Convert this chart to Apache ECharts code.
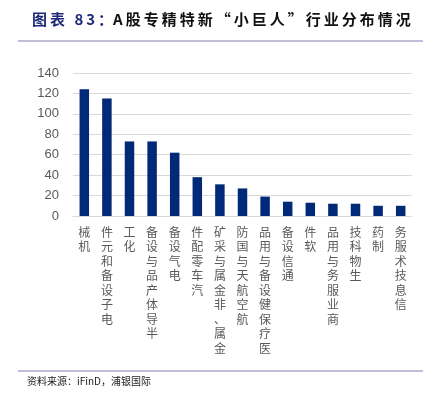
<!DOCTYPE html>
<html>
<head>
<meta charset="utf-8">
<script src="https://cdn.jsdelivr.net/npm/echarts@6/dist/echarts.min.js"></script>
<style>
  html, body { margin: 0; padding: 0; background: #fff; }
  #chart { width: 434px; height: 398px; }
</style>
</head>
<body>
<div id="chart"></div>
<script>
const categories = [
  '机械', '电子设备和元件', '化工', '半导体产品与设备', '电气设备',
  '汽车零配件', '金属、非金属与采矿', '航空航天与国防', '医疗保健设备与用品',
  '通信设备', '软件', '商业服务与用品', '生物科技', '制药', '信息技术服务'
];
const counts = [124, 115, 73, 73, 62, 38, 31, 27, 19, 14, 13, 12, 12, 10, 10];
const yTicks = { min: 0, max: 140, interval: 20 };

const cjk = '"Noto Sans CJK SC", sans-serif';
// the title in the source is set with wide letter spacing
const spaced = (s) => s.split('').join('\u2009');

const chart = echarts.init(document.getElementById('chart'));

chart.setOption({
  backgroundColor: '#fff',
  animation: false,
  title: {
    left: 27,
    top: 7,
    text: '{a|' + spaced('图表 83：') + '}{b|' + spaced('A股专精特新“小巨人”行业分布情况') + '}',
    textStyle: {
      rich: {
        a: { fontFamily: cjk, fontSize: 15, fontWeight: 'bold', color: '#1f2a7a' },
        b: { fontFamily: cjk, fontSize: 15, fontWeight: 'bold', color: '#111' }
      }
    }
  },
  grid: { left: 73, right: 22, top: 73, bottom: 182 },
  xAxis: {
    type: 'category',
    data: categories,
    axisLine: { lineStyle: { color: '#d9d9d9' } },
    axisTick: { show: false },
    axisLabel: {
      interval: 0,
      margin: 9,
      fontFamily: cjk,
      fontSize: 12,
      lineHeight: 14.5,
      color: '#595959',
      verticalAlign: 'top',
      // upright characters stacked, reading from the bottom up
      formatter: (v) => v.split('').reverse().join('\n')
    }
  },
  yAxis: {
    type: 'value',
    min: yTicks.min,
    max: yTicks.max,
    interval: yTicks.interval,
    axisLine: { show: false },
    axisTick: { show: false },
    splitLine: { lineStyle: { color: '#d9d9d9' } },
    axisLabel: {
      margin: 14,
      fontFamily: '"Liberation Sans", sans-serif',
      fontSize: 13,
      color: '#595959'
    }
  },
  series: [
    {
      type: 'bar',
      data: counts,
      barWidth: '42%',
      itemStyle: { color: '#002a78' }
    }
  ],
  graphic: [
    { type: 'line', shape: { x1: 18, y1: 41, x2: 423, y2: 41 }, style: { stroke: '#aaa8cc', lineWidth: 1.5 } },
    { type: 'line', shape: { x1: 18, y1: 371, x2: 423, y2: 371 }, style: { stroke: '#aaa8cc', lineWidth: 1.5 } },
    {
      type: 'text', left: 27, top: 376,
      style: { text: '资料来源：iFinD，浦银国际', fontFamily: cjk, fontSize: 10, fill: '#222' }
    }
  ]
});
</script>
</body>
</html>
